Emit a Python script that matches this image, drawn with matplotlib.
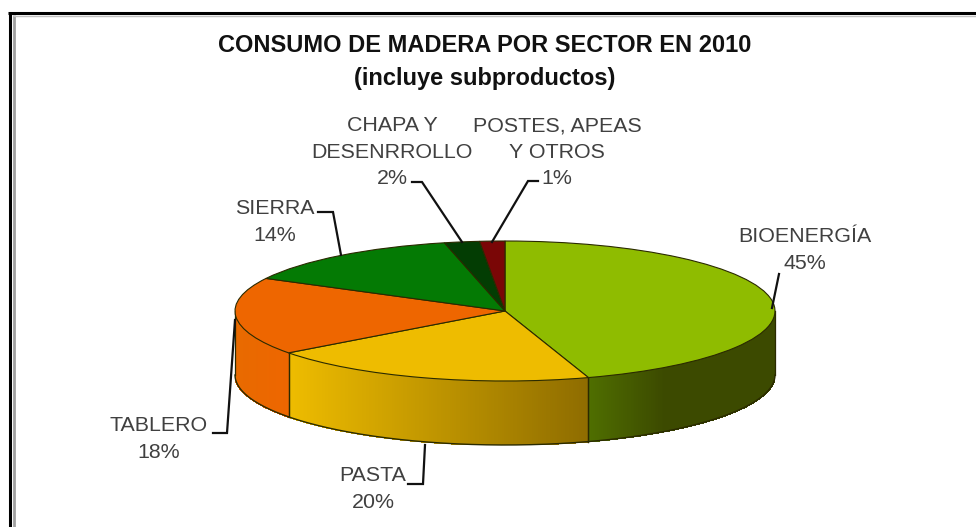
import numpy as np
import matplotlib
matplotlib.use("Agg")
import matplotlib.pyplot as plt
from matplotlib.colors import to_rgb

sectors = ["BIOENERGÍA", "PASTA", "TABLERO", "SIERRA", "CHAPA Y\nDESENRROLLO", "POSTES, APEAS\nY OTROS"]
shares = [45.0, 19.8, 17.9, 13.7, 2.1, 1.5]
pct_labels = ["45%", "20%", "18%", "14%", "2%", "1%"]
top_colors = ["#8FBC00", "#EEBC00", "#EE6600", "#047A04", "#033D03", "#7A0606"]
side_left = ["#4F6E00", "#EEBC00", "#E86A00", "#046004", "#023002", "#600404"]
side_right = ["#3C4A00", "#8E6C00", "#EE6600", "#034C03", "#022002", "#500303"]

W, H = 976, 527
plt.rcParams['font.family'] = ['Liberation Sans', 'DejaVu Sans']
fig = plt.figure(figsize=(W / 100, H / 100), dpi=100, facecolor="white")

ov = fig.add_axes([0, 0, 1, 1], zorder=3)
ov.set_xlim(0, W); ov.set_ylim(H, 0); ov.axis("off"); ov.patch.set_alpha(0)

cx, cy, rx, ry, depth = 505, 311, 270, 70, 64
ax = fig.add_axes([(cx - rx) / W, 1 - (cy + ry + depth) / H, 2 * rx / W, (2 * ry + depth) / H], zorder=2)
ax.patch.set_alpha(0)
d = depth / ry

edges = 90 - np.cumsum([0] + shares) * 3.6
for i in range(len(shares)):
    a0, a1 = edges[i], edges[i + 1]
    lo, hi = max(a1, -180), min(a0, 0)
    if hi <= lo:
        continue
    t = np.linspace(np.radians(hi), np.radians(lo), 160)
    cl, cr = np.array(to_rgb(side_left[i])), np.array(to_rgb(side_right[i]))
    xl, xr = np.cos(t).min(), np.cos(t).max()
    for k in range(len(t) - 1):
        xa, xb = np.cos(t[k]), np.cos(t[k + 1])
        f = ((xa + xb) / 2 - xl) / (xr - xl)
        if i == 0:
            f = min(1, f * 2.5)
        col = cl + (cr - cl) * f
        ya, yb = np.sin(t[k]), np.sin(t[k + 1])
        ax.fill([xa, xb, xb, xa], [ya, yb, yb - d, ya - d], color=col, lw=0.6,
                antialiased=False, zorder=1)
    ax.plot(np.cos(t), np.sin(t) - d, color="#2a2a00", lw=1.0, zorder=2, clip_on=False)
    for ang in (hi, lo):
        a = np.radians(ang)
        ax.plot([np.cos(a)] * 2, [np.sin(a), np.sin(a) - d], color="#2a2a00", lw=0.9, zorder=2, clip_on=False)

wedges, _ = ax.pie(shares, colors=top_colors, startangle=90, counterclock=False, radius=1,
                   wedgeprops=dict(edgecolor="#2a2a00", linewidth=0.8, zorder=3))
ax.set_aspect("auto")
ax.set_xlim(-1, 1)
ax.set_ylim(-1 - d, 1)
ax.axis("off")
for p in wedges:
    p.set_clip_on(False)

# frame
ov.plot([9.7, 9.7], [H, 11.5], color="black", lw=2.2, solid_capstyle="butt")
ov.plot([8.2, W], [13, 13], color="black", lw=2.2, solid_capstyle="butt")
ov.plot([13.5, 13.5], [H, 15], color="#a0a0a0", lw=2.0, solid_capstyle="butt")
ov.plot([13, W], [15.5, 15.5], color="#c0c0c0", lw=1.0, solid_capstyle="butt")

# title
ov.text(485, 46, "CONSUMO DE MADERA POR SECTOR EN 2010", ha="center", va="center",
        fontsize=17, fontweight="bold", color="#111111")
ov.text(485, 78, "(incluye subproductos)", ha="center", va="center",
        fontsize=17, fontweight="bold", color="#111111")

# labels
label_pos = [(805, 250), (373, 489), (159, 439), (275, 222), (392, 152), (557, 152)]
for name, pct, (x, y) in zip(sectors, pct_labels, label_pos):
    ov.text(x, y, f"{name}\n{pct}", ha="center", va="center", fontsize=15.4,
            color="#404040", linespacing=1.48)

# leader lines
leaders = [
    [(772, 308), (779, 274)],
    [(408, 484), (423, 484), (425, 445)],
    [(213, 433), (227, 433), (235, 320)],
    [(318, 212), (333, 212), (341, 255)],
    [(412, 182), (422, 182), (462, 242)],
    [(538, 181), (528, 181), (492, 242)],
]
for pts in leaders:
    xs, ys = zip(*pts)
    ov.plot(xs, ys, color="#111111", lw=1.6, solid_joinstyle="miter")

fig.savefig("out.png", dpi=100, facecolor="white")
